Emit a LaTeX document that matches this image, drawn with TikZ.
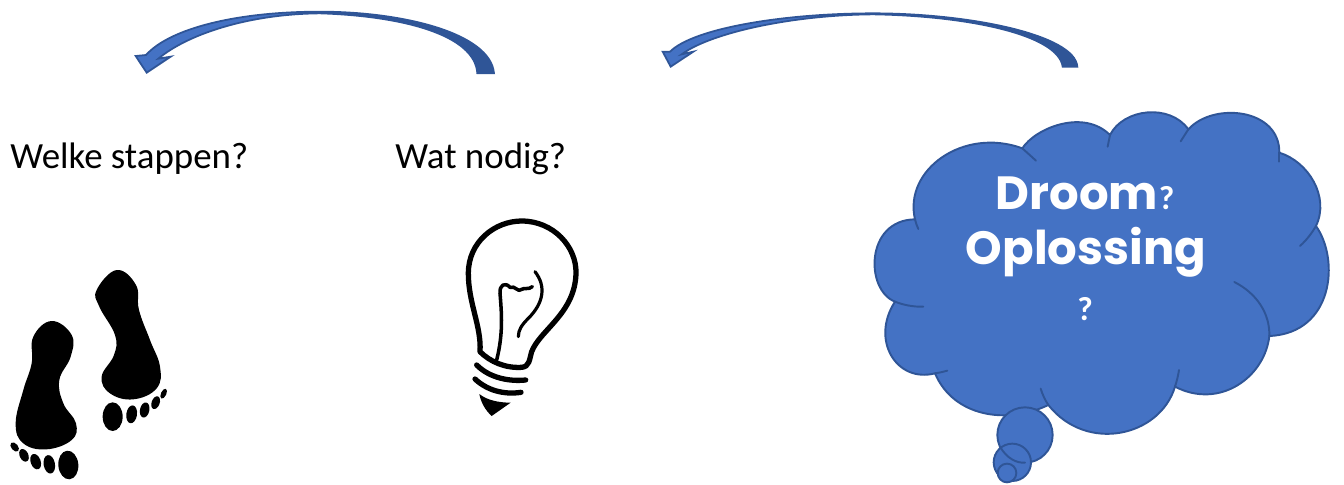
\documentclass[tikz,border=0pt]{standalone}
\usepackage{fontspec}
\setmainfont{Carlito}
\newfontfamily\wolkfont{Poppins}
\usepackage{tikz}
\usetikzlibrary{arrows.meta,calc,positioning}

\definecolor{wolkblauw}{HTML}{4472C4}
\definecolor{randblauw}{HTML}{2F5597}

\tikzset{
  wolkrand/.style={draw=randblauw,line width=1.1pt,line cap=round},
  boogpijl/.style={fill=wolkblauw,draw=randblauw,line width=1pt,line join=miter},
  boogdonker/.style={fill=randblauw},
  lamplijn/.style={draw=black,line width=3pt,line cap=round,line join=round},
  vraagtekst/.style={font=\fontsize{21}{24}\selectfont,text=black,anchor=base west,inner sep=0pt},
  wolktekst/.style={font=\wolkfont\bfseries\fontsize{26.5}{31}\selectfont,text=white,anchor=base,inner sep=0pt},
  wolkvraag/.style={font=\bfseries\fontsize{19}{24}\selectfont,text=white,inner sep=0pt},
}

\begin{document}
\begin{tikzpicture}[x=0.02cm,y=-0.02cm]
  \useasboundingbox (0,0) rectangle (1344,484);

  % Pijl rechts
  \begin{scope}[shift={(650,0)},x=0.00667cm,y=-0.00667cm]
    \path[boogpijl] (1282,200) .. controls (1275,105) and (960,40) .. (670,40)
      .. controls (400,40) and (130,85) .. (60,155) -- (38,155) -- (62,200) -- (130,155) -- (95,163)
      .. controls (180,100) and (420,45) .. (670,43) .. controls (960,48) and (1225,105) .. (1238,200) -- cycle;
    \fill[boogdonker] (1282,200) .. controls (1275,105) and (960,40) .. (670,40) -- (670,43)
      .. controls (960,48) and (1225,105) .. (1238,200) -- cycle;
  \end{scope}

  % Pijl links
  \begin{scope}[shift={(120,0)},x=0.00667cm,y=-0.00667cm]
    \path[boogpijl] (1122,220) .. controls (1112,100) and (850,35) .. (600,35)
      .. controls (350,35) and (150,85) .. (78,165) -- (47,168) -- (80,218) -- (152,170) -- (115,176)
      .. controls (200,105) and (380,42) .. (600,40) .. controls (850,48) and (1065,105) .. (1072,220) -- cycle;
    \fill[boogdonker] (1122,220) .. controls (1112,100) and (850,35) .. (600,35) -- (600,40)
      .. controls (850,48) and (1065,105) .. (1072,220) -- cycle;
  \end{scope}

  % Teksten
  \node[vraagtekst] (stappen) at (10,168) {Welke stappen?};
  \node[vraagtekst] (nodig) at (395,168) {Wat nodig?};

  % Wolk
  \begin{scope}[shift={(860,100)},x=0.00667cm,y=-0.00667cm]
    \path[wolkrand,fill=wolkblauw] (487,145)
      .. controls (525,85) and (670,25) .. (750,105)
      .. controls (790,25) and (930,10) .. (985,88)
      .. controls (1060,5) and (1260,25) .. (1258,158)
      .. controls (1345,185) and (1410,290) .. (1368,378)
      .. controls (1440,480) and (1420,700) .. (1228,708)
      .. controls (1215,830) and (1080,930) .. (945,860)
      .. controls (900,1010) and (680,1060) .. (565,915)
      .. controls (440,975) and (280,950) .. (225,820)
      .. controls (110,850) and (30,720) .. (105,605)
      .. controls (15,570) and (15,360) .. (165,358)
      .. controls (130,210) and (310,80) .. (487,145) -- cycle;
    \draw[wolkrand] (487,145) -- (528,182);
    \draw[wolkrand] (750,105) -- (743,140);
    \draw[wolkrand] (985,88) -- (962,124);
    \draw[wolkrand] (1258,158) -- (1258,185);
    \draw[wolkrand] (1368,378) .. controls (1355,400) and (1340,420) .. (1320,438);
    \draw[wolkrand] (1228,708) .. controls (1230,640) and (1190,580) .. (1123,546);
    \draw[wolkrand] (945,860) .. controls (950,845) and (955,825) .. (957,810);
    \draw[wolkrand] (565,915) .. controls (555,900) and (548,885) .. (542,866);
    \draw[wolkrand] (225,820) .. controls (240,818) and (250,815) .. (262,812);
    \draw[wolkrand] (105,605) .. controls (130,615) and (160,621) .. (190,620);
    \draw[wolkrand] (165,358) .. controls (167,368) and (171,378) .. (175,387);

    % Belletjes
    \path[wolkrand,fill=wolkblauw] (495,1005) circle (83);
    \path[wolkrand,fill=wolkblauw] (457,1087) circle (56);
    \path[wolkrand,fill=wolkblauw] (441,1119) circle (28);
    \draw[wolkrand] (495,1088) .. controls (470,1090) and (440,1075) .. (420,1040);
  \end{scope}
  \node[wolktekst] (droom) at (1077,209) {Droom};
  \node[wolkvraag,anchor=base west] (droomvraag) at (droom.base east) {?};
  \node[wolktekst] (oplossing) at (1086,264) {Oplossing};
  \node[wolkvraag,anchor=base] (oplosvraag) at (1085,320) {?};

  % Gloeilamp
  \begin{scope}[shift={(440,210)},x=0.00667cm,y=-0.00667cm]
    \draw[lamplijn] (120,425) .. controls (125,350) and (85,280) .. (85,190)
      .. controls (85,95) and (165,33) .. (245,33) .. controls (340,33) and (410,110) .. (408,190)
      .. controls (405,310) and (300,360) .. (275,425) .. controls (268,450) and (268,470) .. (245,472)
      .. controls (195,475) and (150,455) .. (120,425);
    \draw[lamplijn,line width=2pt] (170,450) .. controls (190,370) and (185,310) .. (180,250)
      .. controls (178,225) and (195,215) .. (210,232) .. controls (225,225) and (235,250) .. (245,238)
      .. controls (255,232) and (265,240) .. (277,230);
    \draw[lamplijn,line width=1.8pt] (285,185) .. controls (320,230) and (310,280) .. (265,325)
      .. controls (245,345) and (235,360) .. (235,380);
    \draw[lamplijn] (110,465) .. controls (150,505) and (210,515) .. (257,510);
    \draw[lamplijn] (105,507) .. controls (140,540) and (190,555) .. (243,547);
    \fill (118,552) .. controls (140,570) and (175,578) .. (212,578) -- (155,618) .. controls (135,600) and (122,575) .. (118,552) -- cycle;
  \end{scope}

  % Voetstappen
  \begin{scope}[shift={(0,260)},x=0.00667cm,y=-0.00667cm]
    \fill plot[smooth cycle,tension=0.7] coordinates {(350,30) (408,75) (417,150) (450,240) (480,320) (470,385) (400,418) (330,400) (305,350) (342,285) (345,225) (298,140) (290,90)};
    \fill plot[smooth cycle,tension=0.7] coordinates {(155,183) (215,225) (212,290) (178,360) (190,430) (228,490) (215,540) (140,568) (70,550) (47,490) (70,390) (95,310) (100,230)};
    \foreach \tx/\ty/\rx/\ry/\rot in {338/470/30/43/0,395/463/16/27/-8,434/450/14/23/-12,467/428/12/20/-20,491/401/8/16/-25,
      205/615/30/43/5,148/613/17/28/10,107/605/15/24/20,72/586/13/20/25,44/561/10/16/40}
      \fill (\tx,\ty) ellipse[x radius=\rx,y radius=\ry,rotate=\rot];
  \end{scope}
\end{tikzpicture}
\end{document}
